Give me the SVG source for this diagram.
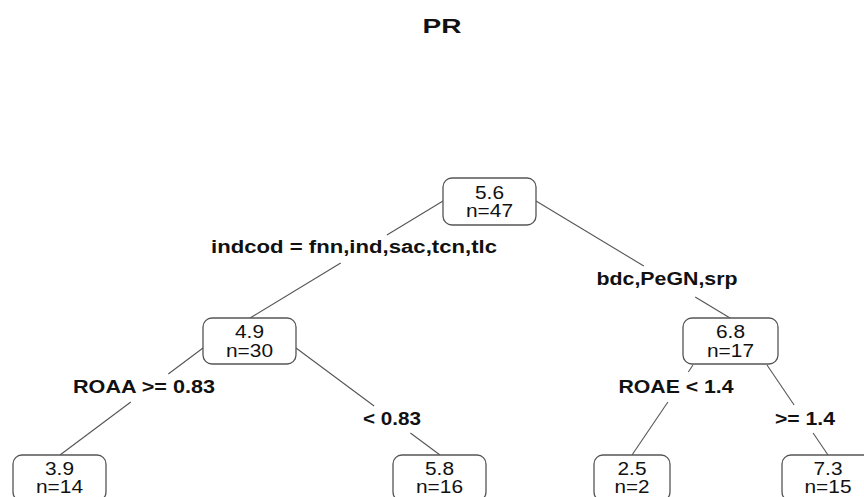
<svg xmlns="http://www.w3.org/2000/svg" width="864" height="497" viewBox="0 0 864 497">
<style>
  .box{fill:#fff;stroke:#555;stroke-width:1.3}
  .edge{stroke:#555;stroke-width:1.1;fill:none}
  .nt{font-family:"Liberation Sans",Arial,sans-serif;font-size:18px;fill:#111;text-anchor:middle}
  .lb{font-family:"Liberation Sans",Arial,sans-serif;font-size:18px;font-weight:bold;fill:#111;text-anchor:middle}
  .title{font-family:"Liberation Sans",Arial,sans-serif;font-size:20px;font-weight:bold;fill:#111;text-anchor:middle}
</style>
<rect width="864" height="497" fill="#fff"/>
<text class="title" x="442" y="33" textLength="39" lengthAdjust="spacingAndGlyphs">PR</text>
<g id="connectors">
  <line class="edge" x1="443" y1="201" x2="386.9" y2="235"/>
  <line class="edge" x1="340.7" y1="263" x2="250" y2="318"/>
  <line class="edge" x1="536" y1="201" x2="643.8" y2="266"/>
  <line class="edge" x1="695.2" y1="297" x2="730" y2="318"/>
  <line class="edge" x1="203" y1="348" x2="168.3" y2="374"/>
  <line class="edge" x1="130.8" y1="402" x2="60" y2="455"/>
  <line class="edge" x1="296" y1="348" x2="374.1" y2="406"/>
  <line class="edge" x1="410.4" y1="433" x2="440" y2="455"/>
  <line class="edge" x1="693" y1="365" x2="688.3" y2="372"/>
  <line class="edge" x1="667.9" y1="402" x2="632" y2="455"/>
  <line class="edge" x1="767" y1="365" x2="794.1" y2="405"/>
  <line class="edge" x1="813.1" y1="433" x2="828" y2="455"/>
  <text class="lb" x="354" y="253" textLength="286" lengthAdjust="spacingAndGlyphs">indcod = fnn,ind,sac,tcn,tlc</text>
  <text class="lb" x="667" y="285" textLength="141" lengthAdjust="spacingAndGlyphs">bdc,PeGN,srp</text>
  <text class="lb" x="144" y="393" textLength="142" lengthAdjust="spacingAndGlyphs">ROAA &gt;= 0.83</text>
  <text class="lb" x="392" y="425" textLength="58" lengthAdjust="spacingAndGlyphs">&lt; 0.83</text>
  <text class="lb" x="676" y="393" textLength="115" lengthAdjust="spacingAndGlyphs">ROAE &lt; 1.4</text>
  <text class="lb" x="805" y="425" textLength="60" lengthAdjust="spacingAndGlyphs">&gt;= 1.4</text>
</g>
<g id="n1">
  <rect class="box" x="443" y="178" width="93" height="47" rx="9"/>
  <text class="nt" x="489.5" y="199" textLength="29" lengthAdjust="spacingAndGlyphs">5.6</text>
  <text class="nt" x="489.5" y="217" textLength="47" lengthAdjust="spacingAndGlyphs">n=47</text>
</g>
<g id="n2">
  <rect class="box" x="203" y="318" width="93" height="46" rx="9"/>
  <text class="nt" x="249.5" y="338" textLength="29" lengthAdjust="spacingAndGlyphs">4.9</text>
  <text class="nt" x="249.5" y="357" textLength="47" lengthAdjust="spacingAndGlyphs">n=30</text>
</g>
<g id="n3">
  <rect class="box" x="683" y="318" width="95" height="46" rx="9"/>
  <text class="nt" x="730.5" y="338" textLength="29" lengthAdjust="spacingAndGlyphs">6.8</text>
  <text class="nt" x="730.5" y="357" textLength="47" lengthAdjust="spacingAndGlyphs">n=17</text>
</g>
<g id="n4">
  <rect class="box" x="13" y="455" width="93" height="46" rx="9"/>
  <text class="nt" x="59.5" y="475" textLength="29" lengthAdjust="spacingAndGlyphs">3.9</text>
  <text class="nt" x="59.5" y="493" textLength="47" lengthAdjust="spacingAndGlyphs">n=14</text>
</g>
<g id="n5">
  <rect class="box" x="393" y="455" width="93" height="46" rx="9"/>
  <text class="nt" x="439.5" y="475" textLength="29" lengthAdjust="spacingAndGlyphs">5.8</text>
  <text class="nt" x="439.5" y="493" textLength="47" lengthAdjust="spacingAndGlyphs">n=16</text>
</g>
<g id="n6">
  <rect class="box" x="594" y="455" width="76" height="46" rx="9"/>
  <text class="nt" x="632" y="475" textLength="29" lengthAdjust="spacingAndGlyphs">2.5</text>
  <text class="nt" x="632" y="493" textLength="35" lengthAdjust="spacingAndGlyphs">n=2</text>
</g>
<g id="n7">
  <rect class="box" x="782" y="455" width="93" height="46" rx="9"/>
  <text class="nt" x="828" y="475" textLength="29" lengthAdjust="spacingAndGlyphs">7.3</text>
  <text class="nt" x="828" y="493" textLength="47" lengthAdjust="spacingAndGlyphs">n=15</text>
</g>
</svg>
